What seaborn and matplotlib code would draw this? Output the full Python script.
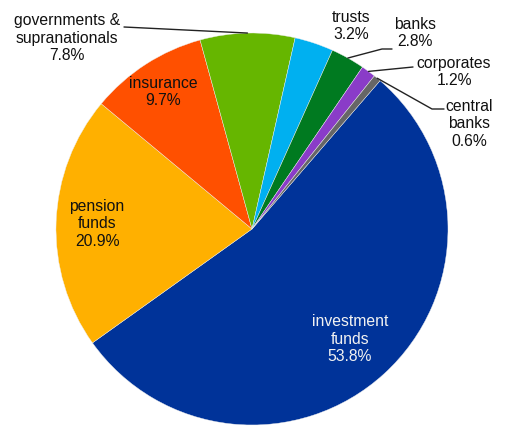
import numpy as np
import matplotlib
matplotlib.use("Agg")
import matplotlib.pyplot as plt
import seaborn as sns

# data (share of holdings, %)
categories = ["investment\nfunds", "pension\nfunds", "insurance",
              "governments &\nsupranationals", "trusts", "banks",
              "corporates", "central\nbanks"]
shares = [53.8, 20.9, 9.7, 7.8, 3.2, 2.8, 1.2, 0.6]
colors = ["#003399", "#FFB000", "#FF5000", "#66B600",
          "#00B0F0", "#007A20", "#8A3CC8", "#666666"]

# layout (pixel coordinates measured from the top-left corner)
W, H = 505, 426
CX, CY, R = 252, 229, 196
START = 90 - 40.8  # first slice starts 40.8 deg clockwise from 12 o'clock

label_pos = [(350, 339), (97, 224), (163, 92), (67, 38),
             (351, 26), (415, 33), (454, 72), (469, 124)]
# leader line bends (None = no leader line)
leaders = [None, None, None, [(124, 27)], None,
           [(382, 49), (392, 49)], [(413, 67)], [(432, 109), (444, 109)]]
text_colors = ["#F2F2F2"] + ["#111111"] * 7

sns.set_theme(style="white")
plt.rcParams["font.family"] = ["Liberation Sans", "DejaVu Sans"]

fig = plt.figure(figsize=(W / 100, H / 100), dpi=100)
ax = fig.add_axes([0, 0, 1, 1])

wedges, _ = ax.pie(shares, colors=sns.color_palette(colors),
                   center=(CX, H - CY), radius=R, startangle=START,
                   counterclock=False,
                   wedgeprops=dict(edgecolor="#EEEEEE", linewidth=0.3))

for w, name, v, (tx, ty), lead, tc in zip(wedges, categories, shares,
                                          label_pos, leaders, text_colors):
    ax.text(tx, H - ty, f"{name}\n{v:.1f}%", ha="center", va="center",
            fontsize=11.3, color=tc, linespacing=1.22)
    if lead is not None:
        mid = np.deg2rad((w.theta1 + w.theta2) / 2)
        pts = [(CX + R * np.cos(mid), H - CY + R * np.sin(mid))]
        pts += [(x, H - y) for x, y in lead]
        xs, ys = zip(*pts)
        ax.plot(xs, ys, color="#222222", lw=1)

ax.set_xlim(0, W)
ax.set_ylim(0, H)
ax.set_aspect("equal")
ax.axis("off")

fig.savefig("out.png", dpi=100, facecolor="white")
